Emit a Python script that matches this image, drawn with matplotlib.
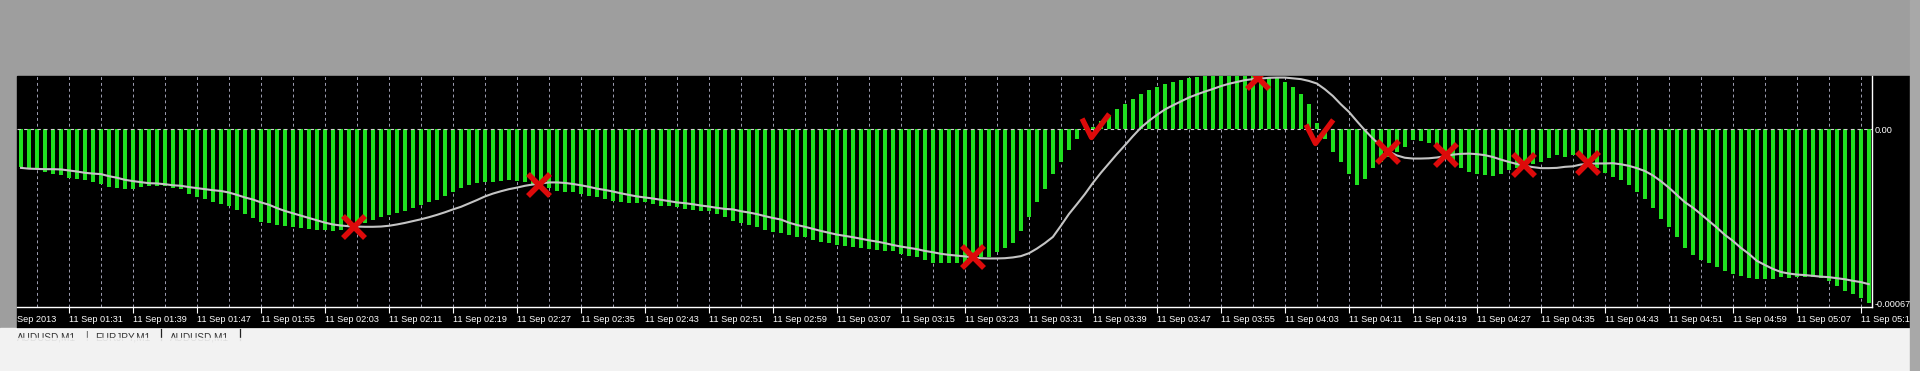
import numpy as np
import matplotlib
matplotlib.use("Agg")
import matplotlib.pyplot as plt
from matplotlib.path import Path
from matplotlib.patches import Rectangle

# MACD histogram (x 1e-5), one bar per minute from 11 Sep 01:25 to 05:16
macd_pts = [
    -14.5, -15.0, -15.0, -16.4, -17.3, -17.6, -18.9, -19.3, -19.6, -20.4, -21.2,
    -22.2, -22.6, -23.0, -23.0, -22.2, -21.7, -21.7, -21.8, -22.5, -22.9, -24.8,
    -26.2, -27.0, -28.1, -28.9, -29.7, -31.2, -32.5, -34.3, -35.7, -36.1, -37.0,
    -37.2, -37.6, -38.1, -38.5, -38.8, -38.9, -39.2, -38.9, -37.6, -36.6, -36.0,
    -34.9, -34.0, -33.0, -32.1, -31.5, -30.4, -29.1, -28.2, -27.3, -25.9, -24.0,
    -22.5, -21.6, -20.9, -20.5, -20.2, -19.9, -19.6, -19.9, -20.5, -21.2, -21.6,
    -22.5, -23.8, -24.0, -24.0, -24.8, -25.7, -26.1, -26.7, -27.6, -28.2, -28.6,
    -28.6, -28.2, -28.9, -29.4, -29.4, -29.9, -30.6, -31.1, -31.5, -31.5, -32.7,
    -34.0, -35.3, -36.0, -36.9, -37.6, -38.8, -39.5, -39.9, -40.7, -41.5, -41.7,
    -42.5, -43.4, -44.0, -44.6, -44.9, -45.3, -45.6, -46.0, -46.5, -46.9, -47.1,
    -47.9, -48.8, -49.4, -50.2, -51.7, -51.7, -51.7, -51.7, -51.4, -50.1, -49.4,
    -49.2, -47.5, -45.6, -43.7, -39.2, -34.0, -27.9, -22.9, -17.1, -12.6, -8.1,
    -3.6, -0.4, 1.0, 3.2, 5.5, 7.7, 9.9, 11.6, 13.5, 15.0, 16.1, 17.3, 18.1,
    19.1, 19.9, 20.2, 20.4, 20.5, 20.5, 20.5, 20.5, 20.5, 20.5, 20.2, 19.9, 19.6,
    18.0, 16.1, 13.5, 9.6, 2.2, -3.6, -8.6, -12.5,
    -17.1, -21.4, -19.3, -14.8, -12.5, -10.9, -8.6, -6.8, -4.2, -4.5, -5.4,
    -7.1, -9.6, -12.5, -15.0, -16.3, -17.1, -17.6, -18.0, -17.3, -15.8, -14.8,
    -14.5, -13.5, -12.5, -11.2, -9.9, -10.7, -9.9, -10.9, -12.5, -15.0, -16.8,
    -18.4, -19.6, -21.4, -24.0, -27.0, -30.4, -34.7, -37.6, -41.5, -45.8, -48.4,
    -50.5, -51.7, -53.0, -54.6, -55.8, -56.5, -57.4, -57.8, -57.7, -57.7, -57.1,
    -57.4, -56.9, -56.9, -57.1, -57.4, -58.4, -60.5, -62.3, -63.6, -65.1, -67.1,
]

# signal line (x 1e-5)
signal_pts = [
    -14.9, -15.2, -15.3, -15.4, -15.4, -15.5, -15.9, -16.3, -16.8, -17.1, -17.3,
    -18.1, -18.7, -19.5, -20.0, -20.4, -20.8, -20.9, -21.2, -21.6, -21.8, -22.3,
    -22.7, -23.1, -23.5, -23.8, -24.4, -25.3, -26.3, -27.1, -28.2, -29.1, -30.4,
    -31.5, -32.4, -33.3, -34.2, -35.1, -36.0, -36.7, -37.1, -37.4, -37.5, -37.6,
    -37.6, -37.5, -37.2, -36.7, -36.1, -35.4, -34.7, -33.9, -33.0, -32.0, -30.9,
    -29.9, -28.6, -27.3, -25.9, -24.8, -23.9, -23.1, -22.5, -21.8, -21.3, -20.9,
    -20.5, -20.5, -20.7, -21.1, -21.6, -22.2, -22.9, -23.4, -24.0, -24.7, -25.3,
    -25.9, -26.3, -26.7, -27.2, -27.7, -28.2, -28.5, -28.9, -29.4, -29.8, -30.3,
    -30.7, -30.9, -31.6, -32.1, -32.7, -33.5, -34.2, -34.8, -36.0, -36.9, -37.6,
    -38.4, -39.2, -39.9, -40.6, -41.1, -41.6, -42.2, -42.8, -43.3, -43.9, -44.6,
    -45.2, -45.7, -46.2, -46.9, -47.4, -48.0, -48.4, -48.7, -49.0, -49.4, -49.7,
    -49.8, -49.8, -49.7, -49.4, -48.9, -47.8, -46.0, -43.9, -41.5, -37.2, -32.7,
    -28.9, -25.0, -20.7, -16.8, -13.2, -9.6, -6.2, -2.7, 0.6, 3.2, 5.5, 7.6,
    9.2, 10.7, 12.2, 13.4, 14.5, 15.5, 16.6, 17.5, 18.2, 18.9, 19.3, 19.5, 19.8,
    19.9, 19.9, 19.6, 19.3, 18.6, 17.6, 15.4, 12.8, 9.6,
    6.7, 3.1, -0.4, -3.6, -6.4, -8.6, -10.1, -11.0, -11.3, -11.3, -11.2,
    -10.9, -10.4, -9.8, -9.5, -9.4, -9.6, -10.0, -10.7, -11.7, -12.6, -13.4,
    -14.1, -14.6, -15.0, -15.0, -14.9, -14.5, -14.3, -13.6, -13.4, -13.2, -13.2,
    -13.1, -13.5, -14.1, -15.0, -16.1, -17.8, -20.0, -22.5, -25.3, -28.1, -30.2,
    -32.7, -35.3, -37.9, -40.7, -43.0, -45.7, -48.0, -50.7, -52.3, -53.8, -55.0,
    -55.6, -56.0, -56.2, -56.5, -56.8, -57.0, -57.4, -57.8, -58.4, -58.9, -59.7,
]

time_labels = [
    "11 Sep 01:31", "11 Sep 01:39", "11 Sep 01:47", "11 Sep 01:55", "11 Sep 02:03",
    "11 Sep 02:11", "11 Sep 02:19", "11 Sep 02:27", "11 Sep 02:35", "11 Sep 02:43",
    "11 Sep 02:51", "11 Sep 02:59", "11 Sep 03:07", "11 Sep 03:15", "11 Sep 03:23",
    "11 Sep 03:31", "11 Sep 03:39", "11 Sep 03:47", "11 Sep 03:55", "11 Sep 04:03",
    "11 Sep 04:11", "11 Sep 04:19", "11 Sep 04:27", "11 Sep 04:35", "11 Sep 04:43",
    "11 Sep 04:51", "11 Sep 04:59", "11 Sep 05:07", "11 Sep 05:15",
]
first_label = "Sep 2013"
price_ticks = [0.0, -0.00067]
price_labels = ["0.00", "-0.00067"]
tabs = ["AUDUSD,M1", "EURJPY,M1", "AUDUSD,M1"]

# red hand-drawn marks (bar index, value x 1e-5)
cross_bar = [41.6, 64.7, 119.0, 154.6, 170.9, 178.2, 187.9, 195.9]
cross_val = [-37.7, -21.6, -49.3, 19.6, -8.9, -10.0, -13.9, -13.1]
check_bar = [133.8, 161.8]
check_val = [-3.1, -5.4]

macd = np.array(macd_pts) * 1e-5
signal = np.array(signal_pts) * 1e-5
x = np.arange(len(macd))

W, H = 1920, 371
fig = plt.figure(figsize=(W / 100, H / 100), dpi=100)
fig.patch.set_facecolor("#9e9e9e")
plt.rcParams["font.family"] = ["Liberation Sans", "DejaVu Sans"]

def fx(px):
    return px / W

def fy(py):
    return 1 - py / H

# window pieces
fig.add_artist(Rectangle((0, 0), 1, fy(328), transform=fig.transFigure,
                         color="#f2f2f2", zorder=0))
fig.add_artist(Rectangle((fx(17), fy(328)), fx(1910 - 17), (328 - 76) / H,
                         transform=fig.transFigure, color="black", zorder=0))
fig.add_artist(plt.Line2D([fx(17), fx(1910)], [fy(328.5), fy(328.5)],
                          transform=fig.transFigure, color="white", lw=1.2))

ax = fig.add_axes([fx(17), fy(307), fx(1872 - 17), (307 - 76) / H])
ax.set_facecolor("black")

for g in range(2, len(macd), 4):
    ax.axvline(g, color="#a0a0b4", lw=0.7, ls=(0, (3, 3)), zorder=1)

ax.bar(x, macd, width=0.5, color="#20e020", zorder=2)
ax.axhline(0, color="#d0d0d0", lw=0.8, ls=(0, (3, 3)), zorder=3)
ax.plot(x, signal, color="#c4c4c4", lw=1.5, zorder=4)

ax.plot(cross_bar, np.array(cross_val) * 1e-5, ls="none", marker="x",
        ms=16, mew=4, color="#dd0a0a", zorder=6)
check = Path([(-0.4, 0.8), (0, 0), (0.75, 1.0)],
             [Path.MOVETO, Path.LINETO, Path.LINETO])
ax.plot(check_bar, np.array(check_val) * 1e-5, ls="none", marker=check,
        ms=34, mew=3.8, mfc="none", color="#dd0a0a", zorder=6)

ax.set_xlim(-0.5, 231.4)
ax.set_ylim(-68.5e-5, 20.5e-5)

ax.set_xticks([6 + 8 * k for k in range(len(time_labels))])
ax.set_xticklabels(time_labels)
for lbl in ax.get_xticklabels():
    lbl.set_ha("left")
ax.tick_params(axis="x", colors="white", length=4, width=0.8, pad=1.5,
               labelsize=6.6)
ax.text(-0.45, -0.035, first_label, transform=ax.get_xaxis_transform(),
        color="white", fontsize=6.6, ha="left", va="top")

ax.yaxis.tick_right()
ax.set_yticks(price_ticks)
ax.set_yticklabels(price_labels)
ax.tick_params(axis="y", colors="white", length=0, pad=2, labelsize=6.6)

for s in ["left", "top"]:
    ax.spines[s].set_visible(False)
for s in ["right", "bottom"]:
    ax.spines[s].set_color("white")
    ax.spines[s].set_linewidth(1.0)

# tab bar under the chart, its lower half faded out as in the screenshot
fig.text(fx(17), fy(333), tabs[0], color="#333333", fontsize=7.2, va="top")
fig.text(fx(85), fy(331), "|", color="#555555", fontsize=7.5, va="top")
fig.text(fx(95), fy(333), tabs[1], color="#333333", fontsize=7.2, va="top")
fig.text(fx(170), fy(333), tabs[2], color="#333333", fontsize=7.2, va="top")
for px in [161, 240]:
    fig.add_artist(plt.Line2D([fx(px), fx(px)], [fy(329), fy(340)],
                              transform=fig.transFigure, color="#222222", lw=0.9))
fig.add_artist(Rectangle((0, 0), 1, fy(338), transform=fig.transFigure,
                         color="#f2f2f2", alpha=0.9, zorder=5))
fig.add_artist(Rectangle((fx(1910), 0), fx(10), 1, transform=fig.transFigure,
                         color="#a8a8a8", zorder=5))

fig.savefig("out.png", dpi=100, facecolor=fig.get_facecolor())
